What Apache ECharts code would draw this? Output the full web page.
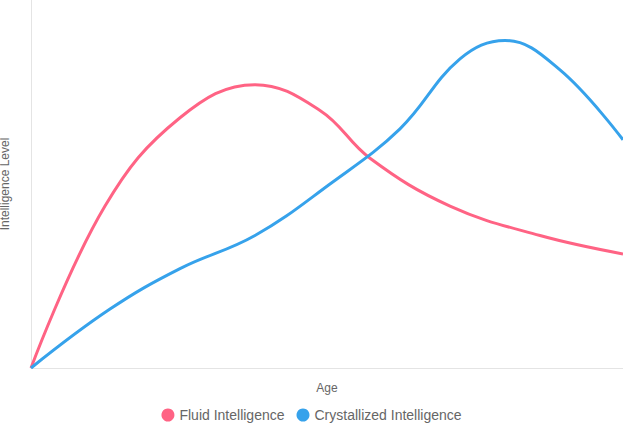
<!DOCTYPE html>
<html>
<head>
<meta charset="utf-8">
<script src="https://cdn.jsdelivr.net/npm/echarts@6/dist/echarts.min.js"></script>
<style>html,body{margin:0;padding:0;background:#fff}#c{width:623px;height:433px}</style>
</head>
<body>
<div id="c"></div>
<script>
// ── Data (age on a hidden linear scale, level 0–100) ──
const fluidAge   = [0, 74, 149, 224, 289, 339, 419, 509, 592];
const fluidLevel = [0, 44, 68, 77, 70, 57, 44, 36, 31];
const crystAge   = [0, 79, 149, 224, 299, 369, 429, 474, 529, 592];
const crystLevel = [0, 16, 27, 36, 50, 65, 84, 89, 81, 62];

const pair = (xs, ys) => xs.map((x, i) => [x, ys[i]]);
const font = 'Helvetica, Arial, "Liberation Sans", sans-serif';

const chart = echarts.init(document.getElementById('c'), null, { renderer: 'svg' });
chart.setOption({
  animation: false,
  color: ['#ff6384', '#36a2eb'],
  grid: { left: 31, right: 0, top: 0, bottom: 65, containLabel: false, outerBoundsMode: 'none' },
  legend: {
    bottom: 6, icon: 'circle', itemWidth: 13, itemHeight: 13, itemGap: 12,
    textStyle: { fontFamily: font, fontSize: 14, color: '#666' },
  },
  xAxis: {
    type: 'value', min: 0, max: 592,
    name: 'Age', nameLocation: 'middle', nameGap: 14,
    nameTextStyle: { fontFamily: font, fontSize: 12, color: '#666' },
    axisLine: { show: true, lineStyle: { color: '#e4e4e4' } },
    axisTick: { show: false }, axisLabel: { show: false }, splitLine: { show: false },
  },
  yAxis: {
    type: 'value', min: 0, max: 100,
    name: 'Intelligence Level', nameLocation: 'middle', nameGap: 20,
    nameTextStyle: { fontFamily: font, fontSize: 12, color: '#666' },
    axisLine: { show: true, lineStyle: { color: '#e4e4e4' } },
    axisTick: { show: false }, axisLabel: { show: false }, splitLine: { show: false },
  },
  series: [
    { name: 'Fluid Intelligence', type: 'line', smooth: 0.4, showSymbol: false,
      lineStyle: { width: 3 }, data: pair(fluidAge, fluidLevel) },
    { name: 'Crystallized Intelligence', type: 'line', smooth: 0.4, showSymbol: false,
      lineStyle: { width: 3 }, data: pair(crystAge, crystLevel) },
  ],
});
</script>
</body>
</html>
